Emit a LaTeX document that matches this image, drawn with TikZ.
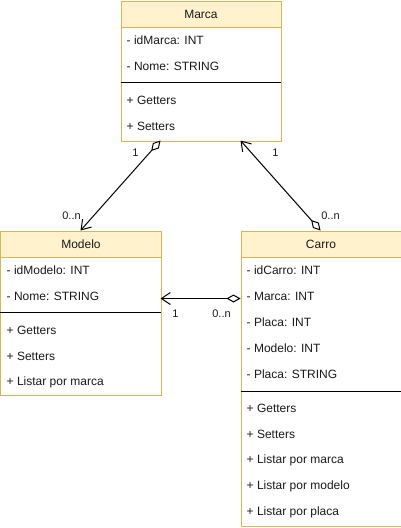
\documentclass[tikz,border=0pt]{standalone}
\usepackage{fontspec}
\setmainfont{Liberation Sans}
\usetikzlibrary{arrows.meta}
\definecolor{hdr}{HTML}{FFF2CC}
\definecolor{bdr}{HTML}{D6B656}
\definecolor{txt}{HTML}{1A1A1A}
\begin{document}
\begin{tikzpicture}[x=1pt,y=-1pt,
  body/.style={draw=bdr,fill=white,line width=1pt,rectangle,inner sep=0pt,anchor=north west,minimum width=160pt},
  head/.style={draw=bdr,fill=hdr,line width=1pt,rectangle,inner sep=0pt,anchor=north west,minimum width=160pt,minimum height=26pt,font=\fontsize{12}{14}\selectfont,text=txt},
  sep/.style={black,line width=1pt},
  item/.style={anchor=west,inner sep=0pt,font=\fontsize{12}{14}\selectfont,text=txt},
  lbl/.style={inner sep=0pt,font=\fontsize{11}{13}\selectfont,text=txt},
  assoc/.style={line width=1pt,black,{Diamond[open,length=14pt,width=8pt,line width=1pt]}-{Straight Barb[length=9pt,width=12pt,line width=1pt]}}
  ]
\useasboundingbox (-0.5,-0.5) rectangle (400.5,527.5);
% Marca
\node[body,minimum height=140pt] (marca) at (120,0) {};
\node[head] (marcah) at (120,0) {Marca};
\draw[sep] (120,82) -- (280,82);
\node[item] (ma1) at (126,40) {- idMarca: INT};
\node[item] (ma2) at (126,66) {- Nome: STRING};
\node[item] (ma3) at (126,100) {+ Getters};
\node[item] (ma4) at (126,126) {+ Setters};
% Modelo
\node[body,minimum height=164pt] (modelo) at (0,230) {};
\node[head] (modeloh) at (0,230) {Modelo};
\draw[sep] (0,312) -- (160,312);
\node[item] (mo1) at (6,270) {- idModelo: INT};
\node[item] (mo2) at (6,296) {- Nome: STRING};
\node[item] (mo3) at (6,330) {+ Getters};
\node[item] (mo4) at (6,356) {+ Setters};
\node[item] (mo5) at (6,382) {+ Listar por marca};
% Carro
\node[body,minimum height=295pt] (carro) at (240,230) {};
\node[head] (carroh) at (240,230) {Carro};
\draw[sep] (240,391) -- (400,391);
\node[item] (c1) at (246,270) {- idCarro: INT};
\node[item] (c2) at (246,296) {- Marca: INT};
\node[item] (c3) at (246,322) {- Placa: INT};
\node[item] (c4) at (246,348) {- Modelo: INT};
\node[item] (c5) at (246,374) {- Placa: STRING};
\node[item] (c6) at (246,408) {+ Getters};
\node[item] (c7) at (246,434) {+ Setters};
\node[item] (c8) at (246,460) {+ Listar por marca};
\node[item] (c9) at (246,486) {+ Listar por modelo};
\node[item] (c10) at (246,512) {+ Listar por placa};
% ports
\coordinate (pMarcaA) at (160,140);
\coordinate (pMarcaB) at (240,140);
\coordinate (pModeloTop) at (80,230);
\coordinate (pModeloR) at (160,298);
\coordinate (pCarroTop) at (320,230);
\coordinate (pCarroL) at (240,298);
% connectors
\draw[assoc] (pMarcaA) -- (pModeloTop);
\draw[assoc] (pCarroTop) -- (pMarcaB);
\draw[assoc] (pCarroL) -- (pModeloR);
% labels
\node[lbl] (l1) at (135,152) {1};
\node[lbl] (l2) at (71,215) {0..n};
\node[lbl] (l3) at (275,152) {1};
\node[lbl] (l4) at (330,215) {0..n};
\node[lbl] (l5) at (175,313) {1};
\node[lbl] (l6) at (221,313) {0..n};
\end{tikzpicture}
\end{document}
